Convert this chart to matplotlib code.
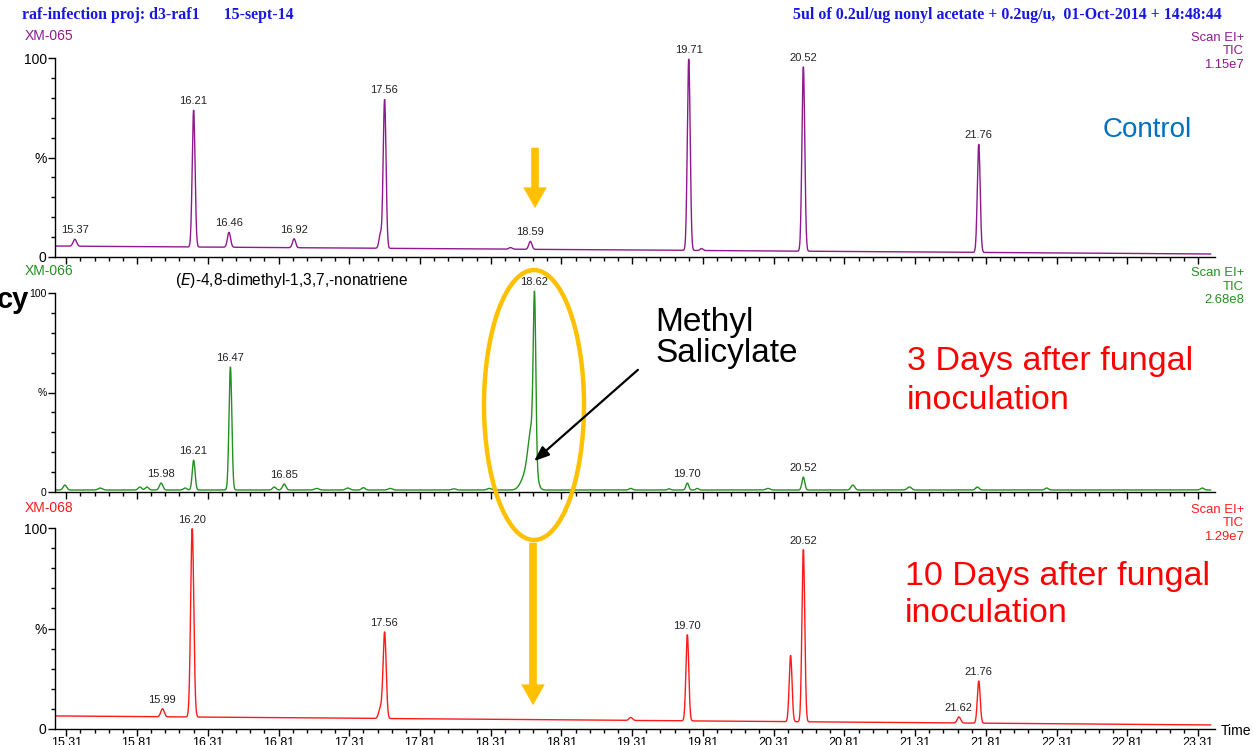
import numpy as np
import matplotlib
matplotlib.use("Agg")
import matplotlib.pyplot as plt
from matplotlib.patches import Ellipse, FancyArrowPatch
from matplotlib.ticker import FixedLocator

plt.rcParams["font.family"] = ["Liberation Sans", "DejaVu Sans"]

W, H = 1253, 745
T0, T1 = 15.23, 23.43

# peak tables: retention time, height above baseline (%), width (min)
ctrl_rt = [15.37, 16.21, 16.46, 16.92, 17.53, 17.56, 18.45, 18.59, 19.71, 19.80, 20.52, 21.76]
ctrl_h = [3.5, 69.0, 7.5, 4.5, 7.0, 75.0, 0.8, 4.0, 96.5, 1.0, 93.0, 54.5]
ctrl_w = [0.012, 0.010, 0.011, 0.011, 0.010, 0.010, 0.012, 0.011, 0.010, 0.010, 0.010, 0.010]
ctrl_base = [5.5, 1.5]
ctrl_labels = [15.37, 16.21, 16.46, 16.92, 17.56, 18.59, 19.71, 20.52, 21.76]

d3_rt = [15.30, 15.55, 15.83, 15.88, 15.98, 16.15, 16.21, 16.47, 16.78, 16.85, 17.08,
         17.30, 17.41, 17.60, 18.05, 18.30, 18.55, 18.60, 18.62, 19.30, 19.57, 19.70,
         19.77, 20.27, 20.52, 20.87, 21.27, 21.75, 22.24, 23.34]
d3_h = [2.5, 1.0, 1.5, 1.5, 3.5, 1.0, 15.0, 62.0, 1.5, 3.0, 0.8,
        1.0, 1.2, 0.8, 0.6, 0.8, 6.0, 30.0, 77.5, 0.8, 0.6, 3.5,
        0.8, 0.8, 6.5, 2.5, 1.5, 1.5, 1.0, 1.0]
d3_w = [0.012, 0.015, 0.012, 0.012, 0.012, 0.012, 0.010, 0.010, 0.012, 0.012, 0.015,
        0.015, 0.012, 0.015, 0.015, 0.015, 0.030, 0.025, 0.009, 0.012, 0.010, 0.010,
        0.010, 0.015, 0.010, 0.013, 0.015, 0.012, 0.012, 0.012]
d3_base = [1.0, 1.0]
d3_labels = [15.98, 16.21, 16.47, 16.85, 18.62, 19.70, 20.52]

d10_rt = [15.99, 16.20, 17.53, 17.56, 19.30, 19.70, 20.43, 20.52, 21.62, 21.76]
d10_h = [4.0, 94.0, 5.0, 43.0, 1.5, 43.0, 33.0, 86.0, 3.0, 21.0]
d10_w = [0.012, 0.011, 0.012, 0.011, 0.012, 0.010, 0.010, 0.010, 0.012, 0.010]
d10_base = [6.5, 2.0]
d10_labels = [15.99, 16.20, 17.56, 19.70, 20.52, 21.62, 21.76]

major_ticks = [15.31, 15.81, 16.31, 16.81, 17.31, 17.81, 18.31, 18.81, 19.31,
               19.81, 20.31, 20.81, 21.31, 21.81, 22.31, 22.81, 23.31]

PURPLE = "#8E1A8E"
GREEN = "#23901F"
RED = "#FF1A1A"
ORANGE = "#FFC000"
HEAD_BLUE = "#1717E0"


def trace(rt, h, w, base):
    t = np.arange(T0 + 0.005, 23.40, 0.002)
    y = np.interp(t, [T0, T1], base)
    for c, a, s in zip(rt, h, w):
        y = y + a * np.exp(-0.5 * ((t - c) / s) ** 2)
    return t, y


def fx(x):
    return x / W


def fy(y):
    return 1 - y / H


def make_axes(top_px, bottom_px, color, rt, h, w, base, labels, show_x, ylab_size):
    ax = fig.add_axes([fx(55), fy(bottom_px), fx(1215) - fx(55), (bottom_px - top_px) / H])
    t, y = trace(rt, h, w, base)
    ax.plot(t, y, color=color, lw=1.0, clip_on=False)
    for lt in labels:
        m = (t > lt - 0.03) & (t < lt + 0.03)
        i = np.argmax(y[m])
        ax.annotate(f"{lt:.2f}", (t[m][i], y[m][i]), xytext=(0, 3),
                    textcoords="offset points", ha="center", va="bottom",
                    fontsize=8, color="#222222", annotation_clip=False)
    ax.set_xlim(T0, T1)
    ax.set_ylim(0, 100)
    for side in ("top", "right"):
        ax.spines[side].set_visible(False)
    ax.spines["left"].set_linewidth(1.0)
    ax.spines["bottom"].set_linewidth(1.0)
    ax.yaxis.set_major_locator(FixedLocator([0, 50, 100]))
    ax.set_yticklabels(["0", "%", "100"], fontsize=ylab_size)
    ax.yaxis.set_minor_locator(FixedLocator(list(range(0, 101, 10))))
    ax.xaxis.set_major_locator(FixedLocator(major_ticks))
    ax.xaxis.set_minor_locator(FixedLocator(list(np.round(np.arange(15.31, 23.36, 0.1), 2))))
    ax.tick_params(axis="y", which="major", length=5, width=1, pad=1)
    ax.tick_params(axis="y", which="minor", length=3, width=1)
    ax.tick_params(axis="x", which="major", length=5, width=1, pad=1, labelsize=9)
    ax.tick_params(axis="x", which="minor", length=3, width=1)
    ax.patch.set_alpha(0)
    if show_x:
        ax.set_xticklabels([f"{v:.2f}" for v in major_ticks])
    else:
        ax.set_xticklabels([])
    return ax


fig = plt.figure(figsize=(W / 100, H / 100), dpi=100)

make_axes(58, 257, PURPLE, ctrl_rt, ctrl_h, ctrl_w, ctrl_base, ctrl_labels, False, 10)
make_axes(293, 492, GREEN, d3_rt, d3_h, d3_w, d3_base, d3_labels, False, 7.5)
make_axes(528, 729, RED, d10_rt, d10_h, d10_w, d10_base, d10_labels, True, 10)

# overlay in pixel coordinates for the annotations
ov = fig.add_axes([0, 0, 1, 1])
ov.set_xlim(0, W)
ov.set_ylim(H, 0)
ov.axis("off")
ov.patch.set_alpha(0)

serif = ["Liberation Serif", "DejaVu Serif"]
ov.text(22, 15, "raf-infection proj: d3-raf1      15-sept-14", family=serif,
        fontweight="bold", fontsize=11.4, color=HEAD_BLUE, va="center", ha="left")
ov.text(1222, 15, "5ul of 0.2ul/ug nonyl acetate + 0.2ug/u,  01-Oct-2014 + 14:48:44",
        family=serif, fontweight="bold", fontsize=11.4, color=HEAD_BLUE, va="center", ha="right")

for yy, name, col, scale in [(36, "XM-065", PURPLE, "1.15e7"),
                             (271, "XM-066", GREEN, "2.68e8"),
                             (508, "XM-068", RED, "1.29e7")]:
    ov.text(25, yy, name, color=col, fontsize=10, va="center", ha="left")
    for k, s in enumerate(["Scan EI+", "TIC", scale]):
        ov.text(1244, yy + 2 + k * 13.5, s, color=col, fontsize=9.4, va="center", ha="right")

ov.text(1221, 731, "Time", fontsize=10, va="center", ha="left")

ov.text(1192, 130, "Control", color="#0070C0", fontsize=20, va="center", ha="right")
ov.text(907, 381, "3 Days after fungal\ninoculation", color="#FF0000", fontsize=24.5,
        va="center", ha="left", linespacing=1.35)
ov.text(905, 595, "10 Days after fungal\ninoculation", color="#FF0000", fontsize=24.5,
        va="center", ha="left", linespacing=1.25)
ov.text(655, 338, "Methyl\nSalicylate", color="black", fontsize=24, va="center", ha="left",
        linespacing=1.0)
ov.text(175, 280, "($\\it{E}$)-4,8-dimethyl-1,3,7,-nonatriene", fontsize=11.2,
        va="center", ha="left")
ov.text(-3, 300, "cy", fontsize=21, fontweight="bold", va="center", ha="left")

ov.add_patch(Ellipse((534, 405), 100, 270, fill=False, edgecolor=ORANGE, lw=3.2))
ov.add_patch(FancyArrowPatch((535, 145), (535, 211), arrowstyle="simple,head_width=1.7,head_length=1.5,tail_width=0.55",
                             mutation_scale=10, color=ORANGE, lw=0))
ov.add_patch(FancyArrowPatch((533, 540), (533, 708), arrowstyle="simple,head_width=1.7,head_length=1.5,tail_width=0.55",
                             mutation_scale=10, color=ORANGE, lw=0))
ov.add_patch(FancyArrowPatch((640, 368), (532, 463), arrowstyle="-|>,head_width=0.35,head_length=0.9",
                             mutation_scale=10, color="black", lw=1.6))

fig.savefig("out.png", dpi=100)
